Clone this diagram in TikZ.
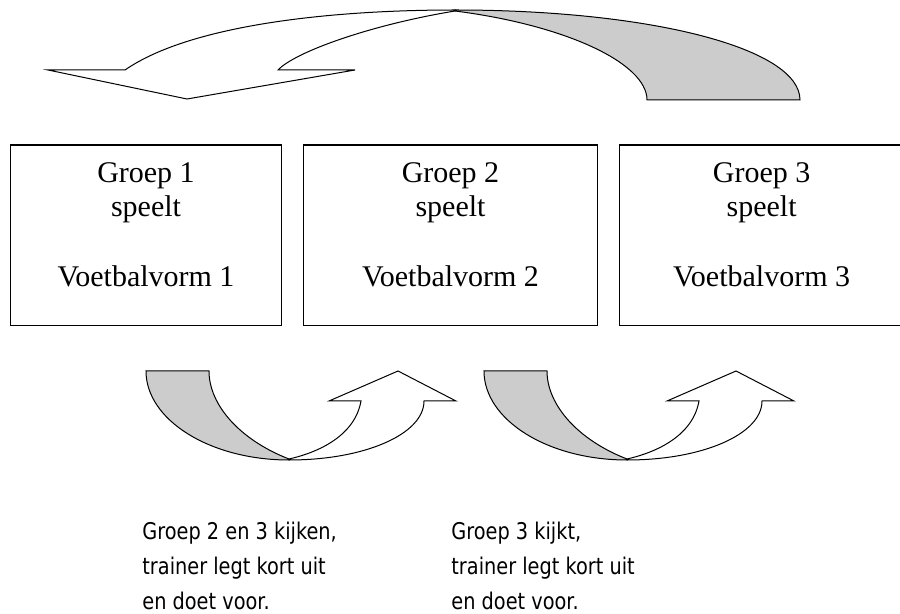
\documentclass[tikz,border=0pt]{standalone}
\usepackage{fontspec}
\setmainfont{Liberation Serif}
\newfontfamily\notefont[FakeStretch=0.84]{DejaVu Sans}
\definecolor{mygray}{RGB}{204,204,204}
\tikzset{
  groepbox/.style={draw,line width=0.65pt,inner sep=0,minimum height=90.35pt},
  groeptext/.style={align=center,inner sep=0,font=\fontsize{15}{17.35}\selectfont},
  notetext/.style={align=left,anchor=north west,inner sep=0,font=\notefont\fontsize{11.5}{17.5}\selectfont},
  blockarrow/.style={draw,line width=0.5pt}
}

\begin{document}
\begin{tikzpicture}[x=0.5pt,y=-0.5pt]
  \useasboundingbox (0,0) rectangle (900,614);

  \def\my{235.4} % middle of the boxes

  % boxes
  \node[groepbox,minimum width=135.7pt] (g1) at (146,\my) {};
  \node[groepbox,minimum width=147.2pt] (g2) at (450.5,\my) {};
  \node[groepbox,minimum width=142.3pt] (g3) at (761.6,\my) {};
  \foreach \i in {1,2,3}
    \node[groeptext,yshift=5.5pt] (t\i) at (g\i) {Groep \i\\speelt\\[17.35pt]Voetbalvorm \i};

  % arrow over the top
  \filldraw[blockarrow,fill=mygray] % back
    (455,10) .. controls (650,10) and (800,48) .. (800,100)
    -- (647,100) .. controls (647,63) and (565,25) .. (455,11) -- cycle;
  \filldraw[blockarrow,fill=white] % front with head
    (48,70) -- (125,70) .. controls (190,25) and (330,10) .. (455,10)
    -- (455,11) .. controls (370,25) and (295,52) .. (278,70)
    -- (355,70) -- (187,99) -- cycle;

  % arrows below
  \foreach \dx in {0,338} {
    \begin{scope}[shift={(\dx,0)}]
      \filldraw[blockarrow,fill=mygray] % back
        (146,371) -- (209,371) .. controls (209,405) and (240,440) .. (289,459)
        -- (289,460) .. controls (210,460) and (146,420) .. (146,371) -- cycle;
      \filldraw[blockarrow,fill=white] % front with head
        (289,460) .. controls (365,460) and (424,434) .. (424,401)
        -- (456,401) -- (398,371) -- (329,401) -- (361,401)
        .. controls (355,435) and (320,452) .. (289,459) -- cycle;
    \end{scope}
  }

  % notes
  \node[notetext] (n1) at (142,522) {Groep 2 en 3 kijken,\\trainer legt kort uit\\en doet voor.};
  \node[notetext] (n2) at (451,522) {Groep 3 kijkt,\\trainer legt kort uit\\en doet voor.};

\end{tikzpicture}
\end{document}
